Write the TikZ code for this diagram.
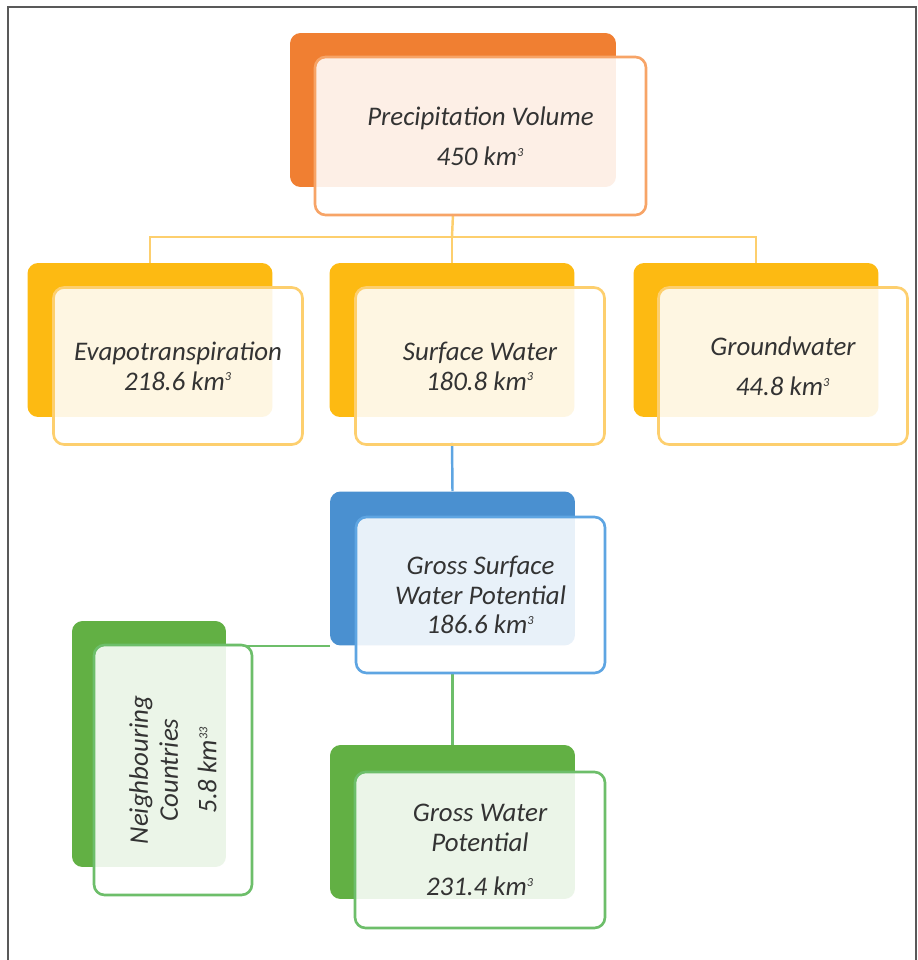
\documentclass[tikz,border=0pt]{standalone}
\usepackage{fontspec}
\setmainfont{Carlito}
\usetikzlibrary{positioning}
\definecolor{precipdark}{HTML}{F07F32}
\definecolor{preciplight}{HTML}{F7A467}
\definecolor{yellowdark}{HTML}{FDBA12}
\definecolor{yellowlight}{HTML}{FDCF6E}
\definecolor{bluedark}{HTML}{4A90D0}
\definecolor{bluelight}{HTML}{5EA5E2}
\definecolor{greendark}{HTML}{62B044}
\definecolor{greenlight}{HTML}{6DBE6A}
\definecolor{textgray}{HTML}{333333}
\newcommand{\boxfont}{\fontsize{15.3}{17}\selectfont\itshape\color{textgray}}
\newcommand{\supthree}[1]{\textsuperscript{\fontsize{7}{7}\selectfont #1}}
\newcommand{\kmcube}{km\supthree{3}}
\tikzset{
	backbox/.style={rounded corners=6pt, minimum width=4.9cm, minimum height=3.08cm},
	frontbox/.style={draw, line width=1.5pt, rounded corners=6pt, fill=white, fill opacity=.88, text opacity=1, minimum width=4.98cm, minimum height=3.14cm, align=center, font=\boxfont},
	link/.style={line width=1.4pt},
	frame/.style={draw=black!65, line width=.7pt}
}

\begin{document}
\begin{tikzpicture}[x=0.02cm, y=-0.02cm]
		\useasboundingbox (0,0) rectangle (918,960);
		\draw[frame] (8,965) -- (8,7) -- (916,7) -- (916,965);

		% back boxes
		\node [backbox, fill=precipdark, minimum width=6.52cm] (precipback) at (453,110) {};
		\node [backbox, fill=yellowdark] (evapback) at (150,340) {};
		\node [backbox, fill=yellowdark] (surfback) at (452,340) {};
		\node [backbox, fill=yellowdark] (grndback) at (756,340) {};
		\node [backbox, fill=bluedark] (gsurfback) at (452.5,568.5) {};
		\node [backbox, fill=greendark, minimum width=3.08cm, minimum height=4.92cm] (nbback) at (149,744) {};
		\node [backbox, fill=greendark] (gwback) at (452.5,822) {};

		% connectors
		\draw [link, draw=yellowlight] (precipback.south |- 0,214) -- (452,237) coordinate (split);
		\draw [link, draw=yellowlight] (evapback.north) |- (split) -| (grndback.north);
		\draw [link, draw=yellowlight] (split) -- (surfback.north);
		\draw [link, draw=bluelight] (surfback.south |- 0,442) -- (gsurfback.north);
		\draw [link, draw=greenlight] (gsurfback.south |- 0,672) -- (gwback.north);
		\draw [link, draw=greenlight] (gsurfback.south west) -- (gsurfback.south west -| nbback.east);

		% front boxes
		\node [frontbox, draw=preciplight, minimum width=6.62cm, minimum height=3.16cm] (precip) at (480.5,136) {Precipitation Volume\\[6pt] 450 \kmcube};
		\node [frontbox, draw=yellowlight] (evap) at (178,366) {Evapotranspiration\\ 218.6 \kmcube};
		\node [frontbox, draw=yellowlight] (surf) at (480,366) {Surface Water\\ 180.8 \kmcube};
		\node [frontbox, draw=yellowlight] (grnd) at (783,366) {Groundwater\\[6pt] 44.8 \kmcube};
		\node [frontbox, draw=bluelight, minimum height=3.12cm] (gsurf) at (480.5,595) {Gross Surface\\ Water Potential\\ 186.6 \kmcube};
		\node [frontbox, draw=greenlight, rotate=90, minimum width=5cm, minimum height=3.16cm] (nb) at (173,770) {Neighbouring\\ Countries\\[5pt] 5.8 km\supthree{33}};
		\node [frontbox, draw=greenlight, minimum width=5cm, minimum height=3.12cm] (gw) at (480,850) {Gross Water\\ Potential\\[8pt] 231.4 \kmcube};
\end{tikzpicture}
\end{document}
